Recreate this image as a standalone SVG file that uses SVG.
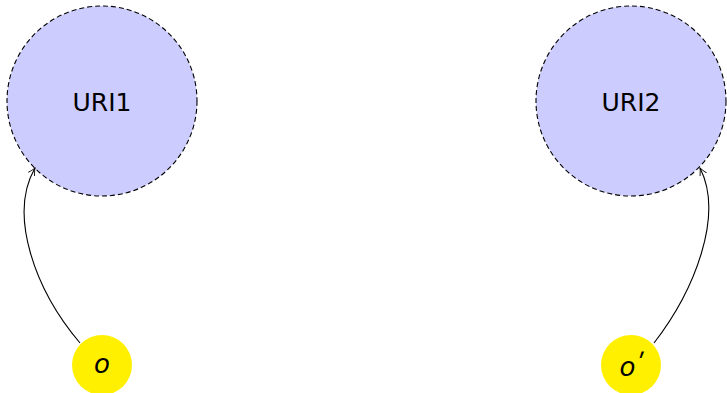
<svg xmlns="http://www.w3.org/2000/svg" width="727" height="393" viewBox="0 0 727 393">
<style>
.uri{fill:#ccccff;stroke:#000;stroke-width:1.1;stroke-dasharray:5,3}
.lit{fill:#fff000;stroke:none}
.lbl{font-family:"DejaVu Sans","Liberation Sans",sans-serif;font-size:25px;fill:#000;text-anchor:middle}
.var{font-family:"DejaVu Sans",sans-serif;font-style:italic;font-size:26px;fill:#000;text-anchor:middle}
.edge{fill:none;stroke:#000;stroke-width:1.1;marker-end:url(#arr)}
</style>
<defs>
<marker id="arr" viewBox="0 0 10 10" refX="9" refY="5" markerWidth="9" markerHeight="9" markerUnits="userSpaceOnUse" orient="auto">
<path d="M1,1 Q6,4 9,5 Q6,6 1,9" fill="none" stroke="#000" stroke-width="1"/>
</marker>
</defs>
<g id="uri1"><circle class="uri" cx="102" cy="101" r="95"/><text class="lbl" x="102" y="111">URI1</text></g>
<g id="uri2"><circle class="uri" cx="631" cy="101" r="95"/><text class="lbl" x="631" y="111">URI2</text></g>
<g id="o"><circle class="lit" cx="102" cy="365" r="30"/><text class="var" x="102" y="373">o</text></g>
<g id="o2"><circle class="lit" cx="631" cy="365" r="30"/><text class="var" x="631" y="376">o<tspan font-size="26" dy="-3">ʹ</tspan></text></g>
<g id="edges">
<path class="edge" d="M80,343 C35,290 8,215 35,168"/>
<path class="edge" d="M654,343 C695,290 724,215 700,168"/>
</g>
</svg>
